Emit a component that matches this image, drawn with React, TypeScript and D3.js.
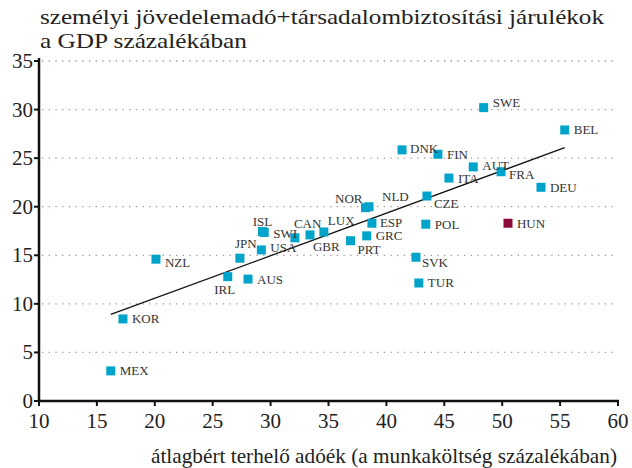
import React from "react";
import * as d3 from "d3";

const countries = ["MEX","KOR","NZL","IRL","AUS","JPN","USA","ISL","SWI","CAN","GBR","LUX","PRT","GRC","ESP","NOR","NLD","CZE","POL","SVK","TUR","HUN","DNK","FIN","AUT","ITA","FRA","DEU","BEL","SWE"];
const taxWedge = [16.2,17.25,20.1,26.3,28.05,27.35,29.2,29.3,29.45,32.1,33.4,34.6,36.9,38.3,38.75,38.2,38.5,43.5,43.4,42.55,42.8,50.5,41.35,44.45,47.5,45.4,49.9,53.35,55.4,48.4];
const revenueShare = [3.1,8.45,14.6,12.8,12.55,14.7,15.55,17.45,17.35,16.8,17.1,17.4,16.5,17.0,18.3,19.9,20.0,21.1,18.2,14.8,12.15,18.3,25.85,25.4,24.1,22.95,23.6,22.0,27.9,30.2];
const highlighted = ["HUN"];
const xTicks = [10,15,20,25,30,35,40,45,50,55,60];
const yTicks = [0,5,10,15,20,25,30,35];
const titleLines = ["személyi jövedelemadó+társadalombiztosítási járulékok", "a GDP százalékában"];
const xTitle = "átlagbért terhelő adóék (a munkaköltség százalékában)";

// label placement (layout only)
const labelPos: Record<string, { dx: number; dy: number; anchor?: string }> = {
  NZL: { dx: 9, dy: 3 },
  IRL: { dx: -3, dy: 13, anchor: "middle" },
  JPN: { dx: 6, dy: -15, anchor: "middle" },
  USA: { dx: 9, dy: -2 },
  ISL: { dx: 0, dy: -10, anchor: "middle" },
  SWI: { dx: 9, dy: 1 },
  CAN: { dx: -1, dy: -14 },
  GBR: { dx: 3, dy: 12 },
  LUX: { dx: 4, dy: -11 },
  PRT: { dx: 7, dy: 9 },
  ESP: { dx: 8, dy: -1 },
  NOR: { dx: -3, dy: -9, anchor: "end" },
  NLD: { dx: 13, dy: -10 },
  CZE: { dx: 7, dy: 7 },
  SVK: { dx: 6, dy: 5 },
  SWE: { dx: 9, dy: -5 },
  FRA: { dx: 8, dy: 3 },
  DNK: { dx: 8, dy: -1 },
  AUT: { dx: 9, dy: -1 },
};

export default function App() {
  const W = 632, H = 468;
  const x = d3.scaleLinear().domain([10, 60]).range([39, 618]);
  const y = d3.scaleLinear().domain([0, 35]).range([401, 61]);
  const font = "'Liberation Serif', 'Times New Roman', serif";
  const n = taxWedge.length;
  const mx = d3.mean(taxWedge)!, my = d3.mean(revenueShare)!;
  let sxy = 0, sxx = 0;
  for (let i = 0; i < n; i++) { sxy += (taxWedge[i]-mx)*(revenueShare[i]-my); sxx += (taxWedge[i]-mx)**2; }
  const b = sxy / sxx, a = my - b * mx;
  const [xmin, xmax] = d3.extent(taxWedge) as [number, number];
  const line = d3.line<number>().x(v => x(v)).y(v => y(a + b * v));
  const sq = 9;
  const titleLens = [564, 207];
  return (
    <svg width={W} height={H} style={{ position: "absolute", left: 0, top: 0, background: "#fff", fontFamily: font }}>
      {titleLines.map((t, i) => (
        <text key={t} x={40} y={24 + i * 24} fontSize={22} fill="#222" textLength={titleLens[i]} lengthAdjust="spacingAndGlyphs">{t}</text>
      ))}
      {yTicks.filter(t => t > 0).map(t => (
        <line key={"g"+t} x1={x(10)+3} x2={x(60)} y1={y(t)} y2={y(t)} stroke="#999" strokeWidth={1.3} strokeDasharray="1.3 5.4" />
      ))}
      <path d={line([xmin, xmax])!} stroke="#111" strokeWidth={1.3} fill="none" />
      {countries.map((c, i) => (
        <rect key={c} x={x(taxWedge[i]) - sq/2} y={y(revenueShare[i]) - sq/2} width={sq} height={sq}
          fill={highlighted.includes(c) ? "#8e0a3a" : "#00a3c9"} />
      ))}
      {countries.map((c, i) => {
        const p = labelPos[c] || { dx: 9, dy: 0 };
        return (
          <text key={"l"+c} x={x(taxWedge[i]) + p.dx} y={y(revenueShare[i]) + p.dy + 4.5}
            fontSize={13} fill="#333" textAnchor={p.anchor || "start"}>{c}</text>
        );
      })}
      <line x1={x(10)} x2={x(10)} y1={y(35)-3} y2={y(0)+1} stroke="#111" strokeWidth={2.5} />
      <line x1={x(10)-1} x2={x(60)+1} y1={y(0)} y2={y(0)} stroke="#111" strokeWidth={2.5} />
      {yTicks.map(t => (
        <g key={"y"+t}>
          <line x1={x(10)-5} x2={x(10)} y1={y(t)} y2={y(t)} stroke="#111" strokeWidth={2} />
          <text x={x(10)-6} y={y(t)+7} fontSize={21} textAnchor="end" fill="#222">{t}</text>
        </g>
      ))}
      {xTicks.map(t => (
        <g key={"x"+t}>
          <line x1={x(t)} x2={x(t)} y1={y(0)} y2={y(0)+5} stroke="#111" strokeWidth={2} />
          <text x={x(t)} y={y(0)+27} fontSize={21} textAnchor="middle" fill="#222">{t}</text>
        </g>
      ))}
      <text x={617} y={463} fontSize={21} textAnchor="end" fill="#222" textLength={466} lengthAdjust="spacingAndGlyphs">{xTitle}</text>
    </svg>
  );
}
